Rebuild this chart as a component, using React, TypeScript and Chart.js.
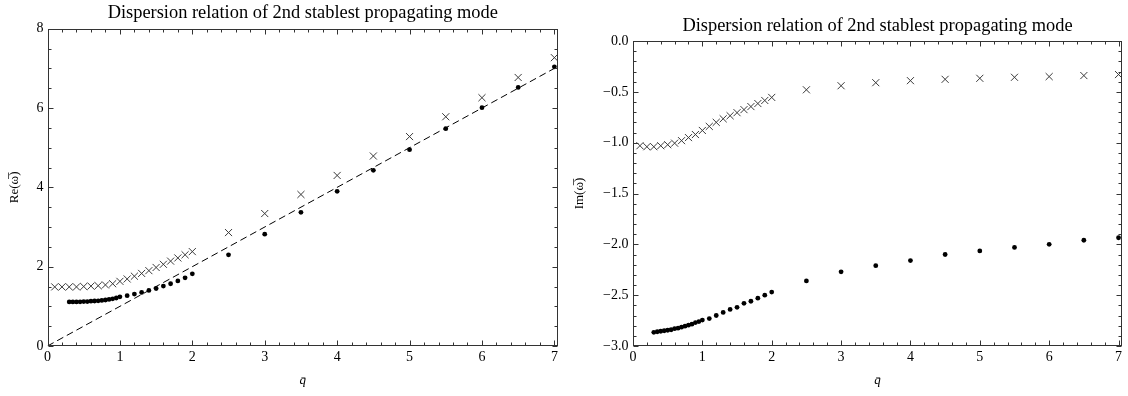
import React, { useEffect, useRef } from "react";
import { Chart, registerables } from "chart.js";

Chart.register(...registerables);

const SERIF = "'Liberation Serif', 'Times New Roman', serif";
Chart.defaults.font.family = SERIF;

const TITLE = "Dispersion relation of 2nd stablest propagating mode";
const X_TITLE = "q\u0304";
const RE_TITLE = "Re(\u03C9\u0305)";
const IM_TITLE = "Im(\u03C9\u0305)";

// crosses
const crossQ = [0.1, 0.2, 0.3, 0.4, 0.5, 0.6, 0.7, 0.8, 0.9, 1.0, 1.1, 1.2, 1.3, 1.4, 1.5, 1.6, 1.7, 1.8, 1.9, 2.0, 2.5, 3.0, 3.5, 4.0, 4.5, 5.0, 5.5, 6.0, 6.5, 7.0];
const reCross = [1.49, 1.49, 1.49, 1.49, 1.5, 1.51, 1.52, 1.54, 1.57, 1.63, 1.69, 1.76, 1.83, 1.9, 1.98, 2.06, 2.14, 2.22, 2.3, 2.38, 2.86, 3.34, 3.82, 4.3, 4.79, 5.28, 5.78, 6.26, 6.77, 7.27];
const imCross = [-1.03, -1.04, -1.04, -1.03, -1.02, -1.005, -0.98, -0.95, -0.92, -0.88, -0.84, -0.8, -0.765, -0.735, -0.705, -0.675, -0.645, -0.615, -0.585, -0.555, -0.48, -0.44, -0.41, -0.39, -0.377, -0.367, -0.357, -0.35, -0.34, -0.33];

// dots
const dotQ = [0.3, 0.35, 0.4, 0.45, 0.5, 0.55, 0.6, 0.65, 0.7, 0.75, 0.8, 0.85, 0.9, 0.95, 1.0, 1.1, 1.2, 1.3, 1.4, 1.5, 1.6, 1.7, 1.8, 1.9, 2.0, 2.5, 3.0, 3.5, 4.0, 4.5, 5.0, 5.5, 6.0, 6.5, 7.0];
const reDot = [1.11, 1.11, 1.11, 1.115, 1.12, 1.12, 1.13, 1.135, 1.14, 1.15, 1.16, 1.175, 1.19, 1.21, 1.24, 1.27, 1.31, 1.35, 1.4, 1.45, 1.51, 1.57, 1.64, 1.72, 1.82, 2.3, 2.82, 3.37, 3.9, 4.43, 4.95, 5.48, 6.01, 6.52, 7.04];
const imDot = [-2.865, -2.86, -2.855, -2.85, -2.845, -2.84, -2.83, -2.825, -2.815, -2.805, -2.795, -2.785, -2.77, -2.76, -2.745, -2.73, -2.7, -2.67, -2.64, -2.62, -2.58, -2.56, -2.53, -2.5, -2.47, -2.36, -2.27, -2.21, -2.16, -2.1, -2.065, -2.03, -2.0, -1.96, -1.935];

// reference line Re(w) = q
const diagQ = [0, 7.05];
const diagRe = [0, 7.05];

// ticks
const qTicks = [0, 1, 2, 3, 4, 5, 6, 7];
const qTickLabels = ["0", "1", "2", "3", "4", "5", "6", "7"];
const reTicks = [0, 2, 4, 6, 8];
const reTickLabels = ["0", "2", "4", "6", "8"];
const imTicks = [-3, -2.5, -2, -1.5, -1, -0.5, 0];
const imTickLabels = ["\u22123.0", "\u22122.5", "\u22122.0", "\u22121.5", "\u22121.0", "\u22120.5", "0.0"];

const Q_MAX = 7.05;

// title centred over the plot area (Chart.js' own title centres over the whole canvas)
const panelTitle = {
  id: "panelTitle",
  afterDraw(chart: any, _args: any, opts: any) {
    const { ctx, chartArea: a } = chart;
    ctx.save();
    ctx.fillStyle = opts.color;
    ctx.font = `${opts.size}px ${SERIF}`;
    ctx.textAlign = "center";
    ctx.textBaseline = "alphabetic";
    ctx.fillText(opts.text, (a.left + a.right) / 2, a.top - opts.gap);
    ctx.restore();
  },
};

const frameTicks = {
  id: "frameTicks",
  afterDatasetsDraw(chart: any, _args: any, opts: any) {
    const { ctx, chartArea: a } = chart;
    const xs = chart.scales.x;
    const ys = chart.scales.y;
    const L = Math.round(a.left) + 0.5;
    const R = Math.round(a.right) - 0.5;
    const T = Math.round(a.top) + 0.5;
    const B = Math.round(a.bottom) - 0.5;
    ctx.save();
    ctx.strokeStyle = opts.color;
    ctx.lineWidth = 1;
    ctx.strokeRect(L, T, R - L, B - T);
    ctx.beginPath();
    const steps = (scale: any, minor: number) => {
      const out: number[] = [];
      const n = Math.round((scale.max - scale.min) / minor);
      for (let i = 0; i <= n; i++) {
        const v = scale.min + i * minor;
        if (v <= scale.max + 1e-9) out.push(v);
      }
      return out;
    };
    const majX = xs.ticks.map((t: any) => t.value);
    for (const v of steps(xs, opts.minorX)) {
      const len = majX.some((m: number) => Math.abs(m - v) < 1e-6) ? opts.major : opts.minor;
      const px = Math.round(xs.getPixelForValue(v)) + 0.5;
      ctx.moveTo(px, B);
      ctx.lineTo(px, B - len);
      ctx.moveTo(px, T);
      ctx.lineTo(px, T + len);
    }
    const majY = ys.ticks.map((t: any) => t.value);
    for (const v of steps(ys, opts.minorY)) {
      const len = majY.some((m: number) => Math.abs(m - v) < 1e-6) ? opts.major : opts.minor;
      const py = Math.round(ys.getPixelForValue(v)) + 0.5;
      ctx.moveTo(L, py);
      ctx.lineTo(L + len, py);
      ctx.moveTo(R, py);
      ctx.lineTo(R - len, py);
    }
    ctx.stroke();
    ctx.restore();
  },
};

type PanelOpts = {
  crossY: number[];
  dotY: number[];
  diag: boolean;
  yMin: number;
  yMax: number;
  yTicks: number[];
  yTickLabels: string[];
  yTitle: string;
  yWidth: number;
  yTitlePad: number;
  yTickPad: number;
  padRight: number;
  padTop: number;
  minorY: number;
};

function buildConfig(o: PanelOpts): any {
  const datasets: any[] = [];
  if (o.diag) {
    datasets.push({
      type: "line",
      data: diagQ.map((q, i) => ({ x: q, y: diagRe[i] })),
      borderColor: "#000",
      borderWidth: 1,
      borderDash: [7, 4],
      pointRadius: 0,
      fill: false,
      tension: 0,
    });
  }
  datasets.push({
    type: "scatter",
    data: crossQ.map((q, i) => ({ x: q, y: o.crossY[i] })),
    pointStyle: "crossRot",
    pointRadius: 5,
    borderColor: "#3a3a3a",
    backgroundColor: "#3a3a3a",
    borderWidth: 1,
  });
  datasets.push({
    type: "scatter",
    data: dotQ.map((q, i) => ({ x: q, y: o.dotY[i] })),
    pointStyle: "circle",
    pointRadius: 2.4,
    backgroundColor: "#000",
    borderColor: "#000",
    borderWidth: 0,
  });
  return {
    type: "scatter",
    data: { datasets },
    plugins: [frameTicks, panelTitle],
    options: {
      responsive: false,
      animation: false,
      devicePixelRatio: 1,
      layout: { padding: { left: 0, right: o.padRight, top: o.padTop, bottom: 0 } },
      plugins: {
        legend: { display: false },
        tooltip: { enabled: false },
        title: { display: false },
        panelTitle: { text: TITLE, color: "#000", size: 18.4, gap: 10.5 },
        frameTicks: { color: "#333", major: 5, minor: 3, minorX: 0.2, minorY: o.minorY },
      },
      scales: {
        x: {
          type: "linear",
          min: 0,
          max: Q_MAX,
          afterBuildTicks: (s: any) => {
            s.ticks = qTicks.map((v) => ({ value: v }));
          },
          afterFit: (s: any) => {
            s.height = 50;
          },
          ticks: {
            color: "#000",
            font: { family: SERIF, size: 14 },
            padding: 3,
            maxRotation: 0,
            autoSkip: false,
            callback: (_v: any, i: number) => qTickLabels[i],
          },
          grid: { display: false, drawTicks: false },
          border: { display: false },
          title: {
            display: true,
            text: X_TITLE,
            color: "#000",
            font: { family: SERIF, size: 13, style: "italic" },
            padding: { top: 0, bottom: 7.5 },
          },
        },
        y: {
          type: "linear",
          min: o.yMin,
          max: o.yMax,
          afterBuildTicks: (s: any) => {
            s.ticks = o.yTicks.map((v) => ({ value: v }));
          },
          afterFit: (s: any) => {
            s.width = o.yWidth;
          },
          ticks: {
            color: "#000",
            font: { family: SERIF, size: 14 },
            padding: o.yTickPad,
            autoSkip: false,
            callback: (_v: any, i: number) => o.yTickLabels[i],
          },
          grid: { display: false, drawTicks: false },
          border: { display: false },
          title: {
            display: true,
            text: o.yTitle,
            color: "#000",
            font: { family: SERIF, size: 13 },
            padding: { top: o.yTitlePad, bottom: 0 },
          },
        },
      },
    },
  };
}

function Panel({ opts, left }: { opts: PanelOpts; left: number }) {
  const ref = useRef<HTMLCanvasElement>(null);
  useEffect(() => {
    const chart = new Chart(ref.current as HTMLCanvasElement, buildConfig(opts));
    return () => chart.destroy();
  }, []);
  return (
    <div style={{ position: "absolute", left, top: 0, width: 564, height: 396 }}>
      <canvas ref={ref} width={564} height={396} style={{ width: 564, height: 396, display: "block" }} />
    </div>
  );
}

const reOpts: PanelOpts = {
  crossY: reCross,
  dotY: reDot,
  diag: true,
  yMin: 0,
  yMax: 8,
  yTicks: reTicks,
  yTickLabels: reTickLabels,
  yTitle: RE_TITLE,
  yWidth: 47.5,
  yTitlePad: 7.2,
  yTickPad: 4,
  padRight: 5.1,
  padTop: 28.7,
  minorY: 0.5,
};

const imOpts: PanelOpts = {
  crossY: imCross,
  dotY: imDot,
  diag: false,
  yMin: -3,
  yMax: 0,
  yTicks: imTicks,
  yTickLabels: imTickLabels,
  yTitle: IM_TITLE,
  yWidth: 69,
  yTitlePad: 8,
  yTickPad: 4.5,
  padRight: 3.8,
  padTop: 41,
  minorY: 0.1,
};

export default function App() {
  useEffect(() => {
    document.body.style.margin = "0";
  }, []);
  return (
    <div style={{ position: "absolute", left: 0, top: 0, width: 1128, height: 396, background: "#fff" }}>
      <Panel opts={reOpts} left={0} />
      <Panel opts={imOpts} left={564} />
    </div>
  );
}
